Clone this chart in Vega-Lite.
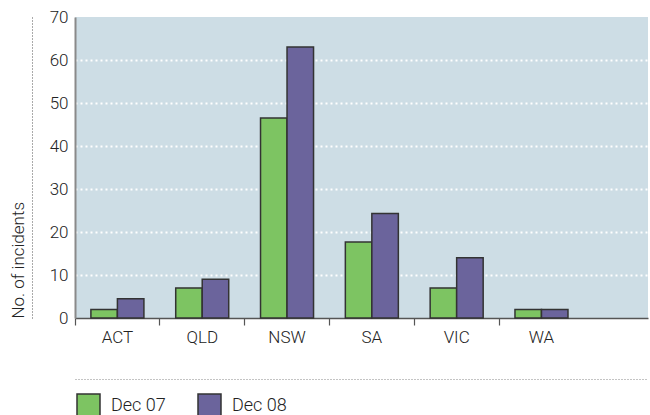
{
  "$schema": "https://vega.github.io/schema/vega-lite/v6.json",
  "autosize": "none",
  "width": 573,
  "height": 301,
  "padding": {"left": 75, "top": 17, "right": 2, "bottom": 97},
  "background": "white",
  "config": {
    "font": "Roboto",
    "view": {"stroke": null, "fill": "#CDDDE5"}
  },
  "data": {
    "values": [
      {"state": "ACT", "period": "Dec 07", "value": 2},
      {"state": "ACT", "period": "Dec 08", "value": 4.5},
      {"state": "QLD", "period": "Dec 07", "value": 7},
      {"state": "QLD", "period": "Dec 08", "value": 9},
      {"state": "NSW", "period": "Dec 07", "value": 46.5},
      {"state": "NSW", "period": "Dec 08", "value": 63},
      {"state": "SA", "period": "Dec 07", "value": 17.7},
      {"state": "SA", "period": "Dec 08", "value": 24.3},
      {"state": "VIC", "period": "Dec 07", "value": 7},
      {"state": "VIC", "period": "Dec 08", "value": 14},
      {"state": "WA", "period": "Dec 07", "value": 2},
      {"state": "WA", "period": "Dec 08", "value": 2}
    ]
  },
  "layer": [
    {
      "mark": {"type": "bar", "stroke": "#333333", "strokeWidth": 1.5},
      "encoding": {
        "x": {
          "field": "state", "type": "nominal", "sort": null,
          "scale": {"paddingInner": 0, "paddingOuter": 0.378, "align": 0},
          "axis": {
            "title": null, "labelAngle": 0, "bandPosition": 0,
            "labelFontSize": 17, "labelFontWeight": 300, "labelColor": "#222222", "labelPadding": 4,
            "domainColor": "#555555", "domainWidth": 1.5,
            "tickColor": "#555555", "tickSize": 7, "tickWidth": 1.2
          }
        },
        "xOffset": {
          "field": "period", "type": "nominal",
          "scale": {"paddingInner": 0, "paddingOuter": 0.6}
        },
        "y": {
          "field": "value", "type": "quantitative",
          "scale": {"domain": [0, 70], "nice": false},
          "axis": {
            "title": null,
            "values": [0, 10, 20, 30, 40, 50, 60, 70],
            "labelFontSize": 17, "labelFontWeight": 300, "labelColor": "#222222", "labelPadding": 7,
            "ticks": false,
            "domainColor": "#8a8a8a", "domainWidth": 2,
            "grid": true, "gridColor": "white", "gridWidth": 2, "gridDash": [2, 3],
            "gridOpacity": {"condition": {"test": "datum.value == 0 || datum.value == 70", "value": 0}, "value": 1}
          }
        },
        "color": {
          "field": "period", "type": "nominal",
          "scale": {"range": ["#7DC462", "#6B649C"]},
          "legend": {
            "title": null, "orient": "none", "legendX": 1, "legendY": 376,
            "direction": "horizontal",
            "symbolType": "square", "symbolSize": 529,
            "symbolStrokeColor": "#333333", "symbolStrokeWidth": 1.5,
            "labelFontSize": 18, "labelFontWeight": 300, "labelColor": "#222222", "labelOffset": 10,
            "columnPadding": 29
          }
        }
      }
    },
    {
      "mark": {"type": "bar", "opacity": 0},
      "encoding": {
        "x": {
          "field": "state", "type": "nominal", "sort": null,
          "scale": {"paddingInner": 0, "paddingOuter": 0.378, "align": 0},
          "axis": {
            "orient": "bottom", "offset": 61, "title": null,
            "labels": false, "ticks": false,
            "domainColor": "#888888", "domainWidth": 1, "domainDash": [1, 2]
          }
        },
        "y": {
          "field": "value", "type": "quantitative",
          "scale": {"domain": [0, 70], "nice": false},
          "axis": {
            "orient": "left", "offset": 43,
            "title": "No. of incidents", "titleFontSize": 17, "titleFontWeight": 300,
            "titleColor": "#222222", "titleAnchor": "start", "titlePadding": 5,
            "labels": false, "ticks": false, "grid": false,
            "domainColor": "#555555", "domainWidth": 1, "domainDash": [1, 2]
          }
        }
      }
    }
  ],
  "resolve": {"scale": {"x": "independent", "y": "independent"}, "axis": {"x": "independent", "y": "independent"}}
}
